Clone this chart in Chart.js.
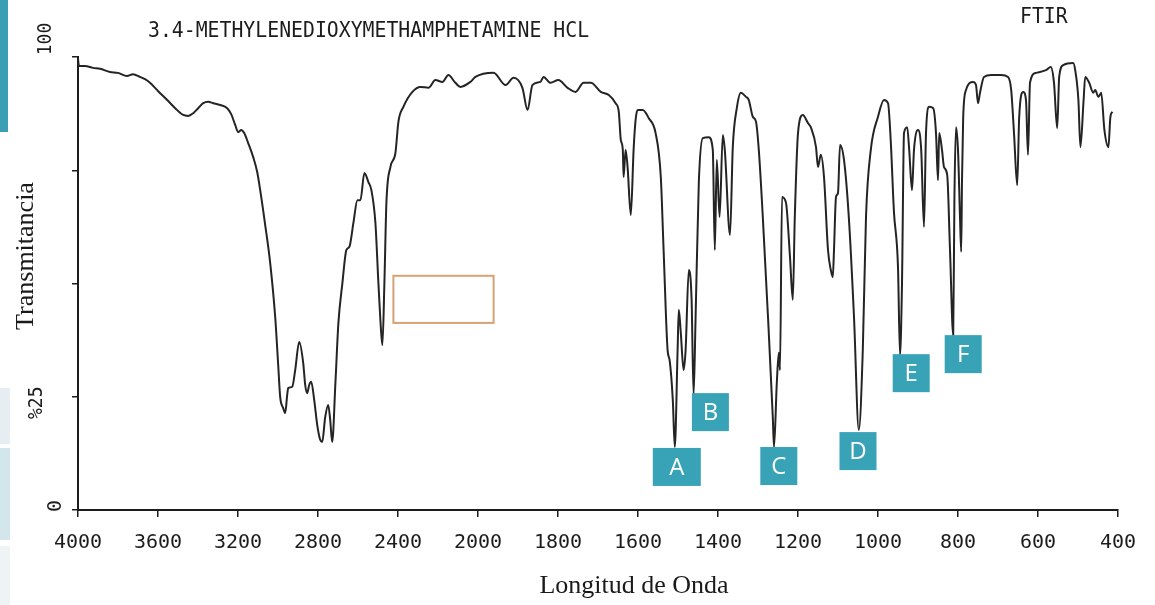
<!DOCTYPE html>
<html>
<head>
<meta charset="utf-8">
<title>FTIR MDMA HCl</title>
<script src="https://cdn.jsdelivr.net/npm/chart.js@4.4.1/dist/chart.umd.min.js"></script>
<style>
  html, body { margin: 0; padding: 0; background: #fff; }
  #wrap { width: 1155px; height: 605px; }
</style>
</head>
<body>
<div id="wrap"><canvas id="chart-ftir" width="1155" height="605"></canvas></div>
<script>
// FTIR spectrum of 3,4-methylenedioxymethamphetamine HCl

const wavenumbers = [
  4000, 3995, 3965, 3925, 3890, 3840, 3800, 3755, 3725, 3690, 3665, 3640, 3600, 3554, 3514, 3474,
  3449, 3424, 3399, 3374, 3349, 3324, 3289, 3254, 3234, 3214, 3199, 3184, 3169, 3149, 3124, 3104,
  3089, 3064, 3039, 3014, 2999, 2989, 2974, 2964, 2954, 2949, 2929, 2914, 2894, 2874, 2864, 2854,
  2844, 2834, 2819, 2804, 2789, 2779, 2764, 2749, 2739, 2729, 2713, 2698, 2678, 2658, 2643, 2623,
  2603, 2588, 2568, 2548, 2533, 2513, 2498, 2488, 2478, 2468, 2458, 2438, 2413, 2398, 2373, 2328,
  2288, 2248, 2213, 2178, 2148, 2113, 2088, 2038, 2013,
  1961, 1931, 1911, 1889, 1876, 1864, 1844, 1836, 1819, 1799, 1776, 1756, 1736, 1718, 1693, 1673,
  1656, 1648, 1643, 1638, 1636, 1631, 1626, 1618, 1611, 1606, 1601, 1588, 1573, 1556, 1543, 1536,
  1526, 1521, 1513, 1508, 1501, 1498, 1493, 1486, 1481, 1473, 1466, 1461, 1456, 1448, 1438, 1423,
  1413, 1408, 1403, 1396, 1388, 1383, 1370, 1363, 1353, 1343, 1330, 1323, 1313, 1305, 1298, 1288,
  1275, 1263, 1260, 1253, 1248, 1245, 1240, 1230, 1220, 1213, 1208, 1200, 1188, 1175, 1168, 1155,
  1150, 1143, 1135, 1125, 1118, 1113, 1110, 1105, 1100, 1095, 1085, 1073, 1060, 1048, 1038, 1030,
  1018, 1000, 985, 975, 967, 962, 960, 950, 945, 940, 935, 927, 922, 915, 910, 900,
  892, 885, 880, 872, 862, 855, 850, 847, 840, 835, 827, 820, 812, 809, 805, 800,
  795, 792, 790, 787, 780, 762, 755, 750, 745, 735, 717, 692, 675, 667, 660, 652,
  647, 637, 630, 625, 620, 605, 580, 568, 560, 552, 547, 537, 512, 507, 499, 494,
  486, 482, 472, 462, 457, 449, 442, 434, 424, 419, 414
];

const transmittance = [
  99.6, 98.0, 98.0, 97.6, 97.4, 96.7, 96.5, 95.8, 96.2, 95.6, 95.1, 94.3, 92.5, 90.5, 88.7, 87.2,
  87.0, 87.6, 88.7, 89.8, 90.1, 89.8, 89.4, 88.7, 87.4, 85.0, 83.4, 83.9, 83.2, 81.0, 77.9, 74.6,
  70.6, 62.9, 54.5, 42.6, 32.0, 24.9, 22.5, 21.4, 25.4, 26.9, 27.2, 30.9, 37.1, 32.5, 27.6, 25.8,
  27.6, 28.3, 24.3, 18.8, 15.5, 15.0, 20.5, 23.2, 19.9, 15.0, 28.0, 41.3, 50.1, 57.4, 58.1, 63.4,
  68.4, 68.4, 74.4, 72.4, 70.6, 63.4, 50.1, 41.9, 36.4, 50.1, 67.8, 75.7, 78.8, 85.7, 89.0, 92.3,
  93.4, 93.2, 94.9, 94.5, 96.0, 94.3, 93.4, 94.5, 95.6,
  96.5, 93.8, 95.4, 93.2, 88.3, 93.8, 94.5, 95.6, 94.3, 94.9, 93.2, 92.3, 94.3, 94.3, 92.3, 91.6,
  89.8, 87.9, 81.7, 79.5, 73.5, 79.5, 75.7, 65.1, 79.5, 86.1, 88.3, 88.3, 86.5, 83.2, 73.5, 57.4,
  35.3, 33.1, 24.3, 13.9, 35.3, 44.2, 39.1, 30.9, 35.3, 53.0, 46.4, 25.4, 42.6, 72.2, 82.1, 82.3,
  79.5, 57.4, 77.3, 64.7, 82.8, 79.5, 60.7, 80.1, 88.7, 92.1, 91.2, 90.5, 86.8, 85.7, 79.5, 64.7,
  42.6, 20.5, 13.9, 28.0, 34.7, 30.9, 69.1, 67.8, 55.8, 46.4, 64.7, 83.2, 87.2, 85.4, 84.5, 80.1,
  75.7, 78.4, 73.5, 57.4, 53.0, 51.4, 57.4, 69.1, 70.0, 80.6, 77.3, 64.7, 42.6, 17.7, 35.3, 64.7,
  79.5, 86.8, 90.5, 89.8, 79.5, 69.1, 65.6, 53.6, 34.2, 50.1, 83.2, 84.5, 79.5, 70.6, 79.5, 83.9,
  79.5, 62.5, 83.2, 89.0, 88.7, 83.2, 72.8, 83.2, 79.5, 75.7, 74.0, 57.4, 38.6, 68.4, 84.5, 79.5,
  64.7, 57.0, 72.8, 86.8, 92.7, 94.5, 93.8, 89.8, 92.1, 95.6, 96.0, 96.0, 95.6, 92.7, 83.2, 71.7,
  86.8, 92.3, 90.5, 78.4, 94.3, 96.5, 97.1, 97.8, 94.3, 84.3, 95.6, 98.2, 98.7, 97.1, 90.5, 80.1,
  90.5, 95.6, 94.3, 92.1, 92.7, 91.2, 92.1, 83.9, 80.1, 86.8, 87.9
];

const xTicks = [4000, 3600, 3200, 2800, 2400, 2000, 1800, 1600, 1400, 1200, 1000, 800, 600, 400];

// peak markers: letter, wavenumber under the box centre, transmittance at box top
const markLetters = ["A", "B", "C", "D", "E", "F"];
const markWaves = [1503, 1419, 1248, 1050, 917, 787];
const markTops = [13.7, 25.8, 13.9, 17.2, 34.4, 38.6];

// empty highlight frame (wavenumber span, transmittance span)
const frameWaves = [2423, 1961];
const frameLevels = [51.7, 41.3];

const BREAK = 2000; // the chart paper doubles its scale below 2000 cm-1

// x scale with the usual FTIR abscissa expansion
class FtirScale extends Chart.LinearScale {
  getPixelForValue(value) {
    const pos = value >= BREAK ? (4000 - value) / 2 : (4000 - BREAK) / 2 + (BREAK - value);
    return this.getPixelForDecimal(pos / 2600);
  }
  getValueForPixel(pixel) {
    const pos = this.getDecimalForPixel(pixel) * 2600;
    return pos <= 1000 ? 4000 - 2 * pos : BREAK - (pos - 1000);
  }
}
FtirScale.id = "ftir";
FtirScale.defaults = {};
Chart.register(FtirScale);

const plotterFont = "DejaVu Sans Mono";
const ink = "#1c1c1c";
const teal = "#38a3b6";

// draw a label; sx squeezes the plotter lettering a bit
function text(ctx, str, x, y, font, color, rot, align, base, sx) {
  ctx.save();
  ctx.translate(x, y);
  if (rot) ctx.rotate(rot);
  if (sx) ctx.scale(sx, 1);
  ctx.font = font;
  ctx.fillStyle = color;
  ctx.textAlign = align || "center";
  ctx.textBaseline = base || "middle";
  ctx.fillText(str, 0, 0);
  ctx.restore();
}

const decor = {
  id: "decor",
  beforeDraw(chart) {
    const ctx = chart.ctx;
    ctx.save();
    // slide remnants on the left edge
    ctx.fillStyle = "#3a9fb5";
    ctx.fillRect(0, 0, 8, 132);
    ctx.fillStyle = "#e6eef1";
    ctx.fillRect(0, 388, 10, 56);
    ctx.fillStyle = "#d3e6ec";
    ctx.fillRect(0, 448, 10, 92);
    ctx.fillStyle = "#eef3f5";
    ctx.fillRect(0, 546, 10, 59);
    ctx.restore();
  },
  afterDatasetsDraw(chart) {
    const ctx = chart.ctx;
    const xs = chart.scales.x, ys = chart.scales.y;

    // titles from the plotter
    text(ctx, "3.4-METHYLENEDIOXYMETHAMPHETAMINE HCL", 148, 31, "22px " + plotterFont, ink, 0, "left", "middle", 0.9);
    text(ctx, "FTIR", 1020, 17, "22px " + plotterFont, ink, 0, "left", "middle", 0.9);

    // rotated ordinate labels
    const yl = "20px " + plotterFont;
    text(ctx, "100", 46, ys.getPixelForValue(100) - 18, yl, ink, -Math.PI / 2, "center", "middle", 0.9);
    text(ctx, "%25", 37, ys.getPixelForValue(25) + 6, yl, ink, -Math.PI / 2, "center", "middle", 0.9);
    text(ctx, "0", 56, ys.getPixelForValue(0) - 4, yl, ink, -Math.PI / 2);

    // axis titles added on the slide
    text(ctx, "Transmitancia", 33, 256, "26px 'Liberation Serif'", "#1a1a1a", -Math.PI / 2, "center", "alphabetic");
    text(ctx, "Longitud de Onda", 634, 593, "26px 'Liberation Serif'", "#1a1a1a", 0, "center", "alphabetic");

    // empty orange frame
    const fx0 = xs.getPixelForValue(frameWaves[0]), fx1 = xs.getPixelForValue(frameWaves[1]);
    const fy0 = ys.getPixelForValue(frameLevels[0]), fy1 = ys.getPixelForValue(frameLevels[1]);
    ctx.save();
    ctx.strokeStyle = "#d8a274";
    ctx.lineWidth = 2;
    ctx.strokeRect(fx0, fy0, fx1 - fx0, fy1 - fy0);
    ctx.restore();

    // peak letter boxes
    markLetters.forEach((letter, i) => {
      const w = letter === "A" ? 48 : 37;
      const h = 38;
      const cx = xs.getPixelForValue(markWaves[i]);
      const top = ys.getPixelForValue(markTops[i]);
      ctx.save();
      ctx.fillStyle = teal;
      ctx.fillRect(cx - w / 2, top, w, h);
      ctx.restore();
      text(ctx, letter, cx, top + h / 2 + 1, "24px 'Open Sans'", "#fff");
    });
  }
};

const canvas = document.getElementById("chart-ftir");
new Chart(canvas, {
  type: "line",
  data: {
    datasets: [{
      data: wavenumbers.map((w, i) => ({ x: w, y: transmittance[i] })),
      borderColor: "#242424",
      borderWidth: 2,
      pointRadius: 0,
      fill: false,
      cubicInterpolationMode: "monotone",
    }]
  },
  options: {
    responsive: false,
    animation: false,
    events: [],
    layout: { padding: { left: 0, right: 37, top: 57, bottom: 0 } },
    plugins: { legend: { display: false }, tooltip: { enabled: false } },
    scales: {
      x: {
        type: "ftir",
        min: 400,
        max: 4000,
        afterBuildTicks: s => { s.ticks = xTicks.map(v => ({ value: v })); },
        afterFit: s => { s.height = 95; },
        grid: { drawOnChartArea: false, drawTicks: true, tickLength: 7, color: ink, lineWidth: 1.5 },
        border: { display: true, color: ink, width: 2 },
        ticks: {
          color: ink,
          font: { family: plotterFont, size: 20 },
          padding: 14,
          autoSkip: false,
          maxRotation: 0,
          callback: v => String(v),
        },
      },
      y: {
        min: 0,
        max: 100,
        afterFit: s => { s.width = 78; },
        ticks: { display: false, stepSize: 25 },
        grid: { drawOnChartArea: false, drawTicks: true, tickLength: 6, color: ink, lineWidth: 1.5 },
        border: { display: true, color: ink, width: 2 },
      }
    }
  },
  plugins: [decor]
});
</script>
</body>
</html>
